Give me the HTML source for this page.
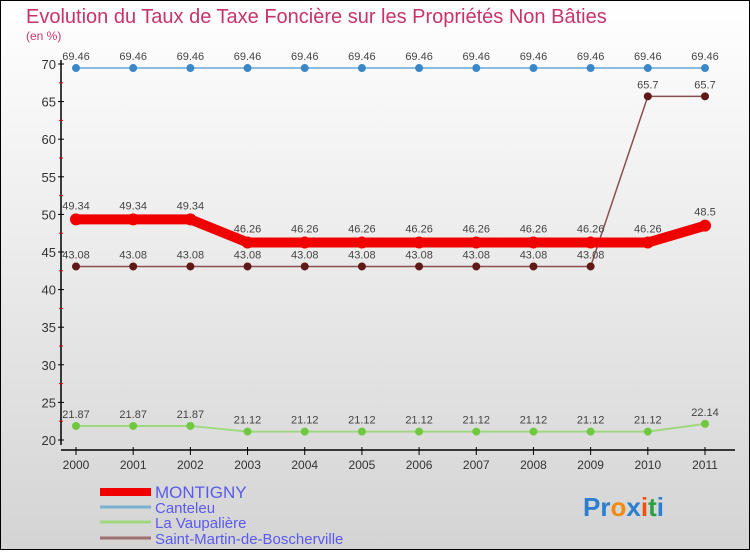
<!DOCTYPE html>
<html><head><meta charset="utf-8">
<style>
body{margin:0;width:750px;height:550px;overflow:hidden;font-family:"Liberation Sans",sans-serif}
</style></head>
<body>
<svg id="c" width="750" height="550" xmlns="http://www.w3.org/2000/svg">
<defs>
<linearGradient id="bg" x1="0" y1="0" x2="0" y2="1"><stop offset="0" stop-color="#ffffff"/><stop offset="1" stop-color="#d4d4d4"/></linearGradient>
</defs>
<rect x="0.5" y="0.5" width="749" height="549" fill="url(#bg)" stroke="#000"/>
<text x="26" y="23" font-size="20" fill="#c8336a">Evolution du Taux de Taxe Foncière sur les Propriétés Non Bâties</text>
<text x="26" y="40" font-size="12" fill="#c8336a">(en %)</text>
<g id="axes"></g>
<g id="series"></g>
<g id="legend"></g>
<g font-size="26" font-weight="bold">
<text x="583" y="516"><tspan fill="#2a7fd0">Pr</tspan><tspan fill="#f08a10">o</tspan><tspan fill="#2a7fd0">x</tspan><tspan fill="#f05010">i</tspan><tspan fill="#2aa040">t</tspan><tspan fill="#2a7fd0">i</tspan></text>
</g>
</svg>
<script>
const years=["2000","2001","2002","2003","2004","2005","2006","2007","2008","2009","2010","2011"];
const yTicks=[20,25,30,35,40,45,50,55,60,65,70];
const montigny=[49.34,49.34,49.34,46.26,46.26,46.26,46.26,46.26,46.26,46.26,46.26,48.5];
const canteleu=[69.46,69.46,69.46,69.46,69.46,69.46,69.46,69.46,69.46,69.46,69.46,69.46];
const vaupaliere=[21.87,21.87,21.87,21.12,21.12,21.12,21.12,21.12,21.12,21.12,21.12,22.14];
const stmartin=[43.08,43.08,43.08,43.08,43.08,43.08,43.08,43.08,43.08,43.08,65.7,65.7];
const labelsMontigny=["49.34","49.34","49.34","46.26","46.26","46.26","46.26","46.26","46.26","46.26","46.26","48.5"];
const labelsCanteleu=["69.46","69.46","69.46","69.46","69.46","69.46","69.46","69.46","69.46","69.46","69.46","69.46"];
const labelsVaup=["21.87","21.87","21.87","21.12","21.12","21.12","21.12","21.12","21.12","21.12","21.12","22.14"];
const labelsStm=["43.08","43.08","43.08","43.08","43.08","43.08","43.08","43.08","43.08","43.08","65.7","65.7"];
const NS="http://www.w3.org/2000/svg";
const xs=i=>76+i*(705-76)/11;
const ys=v=>440-(v-20)*(440-64)/50;
function mk(p,t,a){const e=document.createElementNS(NS,t);for(const k in a)e.setAttribute(k,a[k]);p.appendChild(e);return e;}
const ax=document.getElementById('axes');
let l=mk(ax,'line',{x1:61,y1:60,x2:61,y2:445,stroke:'#000','stroke-width':1.5});

l=mk(ax,'line',{x1:61,y1:450,x2:735,y2:450,stroke:'#000','stroke-width':1.5});

yTicks.forEach(v=>{mk(ax,'line',{x1:58,y1:ys(v),x2:64,y2:ys(v),stroke:'#000'});
 if(v<70)mk(ax,'line',{x1:59,y1:ys(v+2.5),x2:63,y2:ys(v+2.5),stroke:'#d00'});
 const t=mk(ax,'text',{x:56,y:ys(v)+5,'text-anchor':'end','font-size':13,fill:'#333'});t.textContent=v;
 });
years.forEach((y,i)=>{mk(ax,'line',{x1:xs(i),y1:447,x2:xs(i),y2:455,stroke:'#000'});
 const t=mk(ax,'text',{x:xs(i),y:469,'text-anchor':'middle','font-size':12,fill:'#333'});t.textContent=y;
 });
const sg=document.getElementById('series');
function series(name,vals,labs,color,w,r,dot){
 const g=mk(sg,'g',{});
 mk(g,'polyline',{points:vals.map((v,i)=>xs(i)+','+ys(v)).join(' '),fill:'none',stroke:color,'stroke-width':w,'stroke-linejoin':'round'});
 vals.forEach((v,i)=>{const c=mk(g,'circle',{cx:xs(i),cy:ys(v),r:r,fill:dot});
  const t=mk(g,'text',{x:xs(i),y:ys(v)-(r+4),'text-anchor':'middle','font-size':11,fill:'#444'});t.textContent=labs[i];
  });
}
series('canteleu-line',canteleu,labelsCanteleu,'#6aa8d8',1.5,4,'#3a88c8');
series('vaupaliere-line',vaupaliere,labelsVaup,'#a0d880',2,4,'#70c840');
series('saint-martin-line',stmartin,labelsStm,'#8a5050',1.5,4,'#601818');
series('montigny-line',montigny,labelsMontigny,'#f00000',10,6,'#f00000');
const lg=document.getElementById('legend');
const legend=[["MONTIGNY","#f00000",8,17],["Canteleu","#7ab0d0",3,15],["La Vaupalière","#a0d880",3,15],["Saint-Martin-de-Boscherville","#a07070",3,15]];
const ly=[498,513,528,544];
legend.forEach((e,i)=>{const g=mk(lg,'g',{});
 mk(g,'line',{x1:100,y1:ly[i]-6,x2:151,y2:ly[i]-6,stroke:e[1],'stroke-width':e[2]});
 const t=mk(g,'text',{x:155,y:ly[i],'font-size':e[3],fill:'#5a5aee'});t.textContent=e[0];});
</script>
</body></html>
